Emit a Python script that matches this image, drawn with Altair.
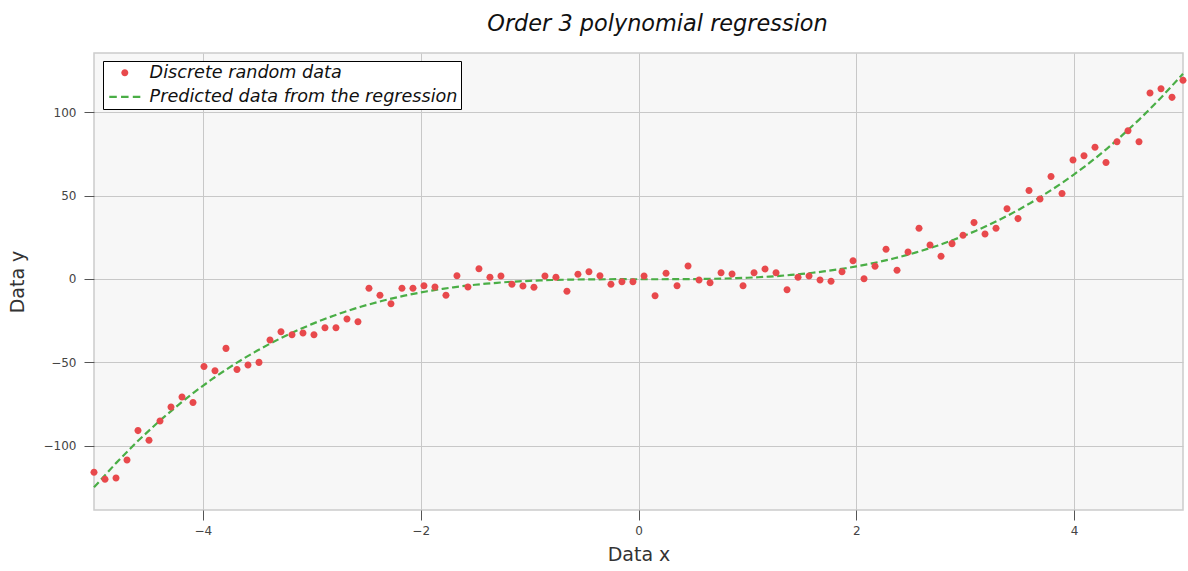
import altair as alt
import pandas as pd

# Sample positions along x (100 evenly spaced samples on [-5, 5])
x_values = [
    -5.000, -4.899, -4.798, -4.697, -4.596, -4.495, -4.394, -4.293, -4.192, -4.091,
    -3.990, -3.889, -3.788, -3.687, -3.586, -3.485, -3.384, -3.283, -3.182, -3.081,
    -2.980, -2.879, -2.778, -2.677, -2.576, -2.475, -2.374, -2.273, -2.172, -2.071,
    -1.970, -1.869, -1.768, -1.667, -1.566, -1.465, -1.364, -1.263, -1.162, -1.061,
    -0.960, -0.859, -0.758, -0.657, -0.556, -0.455, -0.354, -0.253, -0.152, -0.051,
    0.051, 0.152, 0.253, 0.354, 0.455, 0.556, 0.657, 0.758, 0.859, 0.960,
    1.061, 1.162, 1.263, 1.364, 1.465, 1.566, 1.667, 1.768, 1.869, 1.970,
    2.071, 2.172, 2.273, 2.374, 2.475, 2.576, 2.677, 2.778, 2.879, 2.980,
    3.081, 3.182, 3.283, 3.384, 3.485, 3.586, 3.687, 3.788, 3.889, 3.990,
    4.091, 4.192, 4.293, 4.394, 4.495, 4.596, 4.697, 4.798, 4.899, 5.000,
]

# Noisy observations
y_values = [
    -115.9, -120.1, -119.3, -108.5, -90.9, -96.7, -85.1, -76.7, -70.7, -74.1,
    -52.4, -55.0, -41.6, -54.2, -51.6, -50.0, -36.6, -31.6, -33.4, -32.4,
    -33.4, -29.2, -29.2, -24.0, -25.6, -5.6, -9.8, -14.8, -5.6, -5.6,
    -4.0, -4.8, -9.8, 2.0, -4.8, 6.2, 1.0, 1.8, -3.2, -4.2,
    -5.0, 1.8, 1.0, -7.4, 2.8, 4.4, 2.0, -3.2, -1.6, -1.6,
    1.8, -10.0, 3.4, -4.0, 7.8, -0.6, -2.2, 3.8, 3.0, -4.0,
    3.8, 6.0, 3.8, -6.4, 1.0, 1.8, -0.6, -1.4, 4.4, 11.0,
    0.2, 7.6, 17.8, 5.2, 16.2, 30.4, 20.4, 13.6, 21.2, 26.2,
    33.8, 27.0, 30.4, 42.1, 36.2, 53.0, 48.0, 61.4, 51.2, 71.3,
    73.9, 79.0, 69.8, 82.3, 88.9, 82.3, 111.5, 114.1, 108.9, 119.1,
]

series_names = ["Discrete random data", "Predicted data from the regression"]
series_colors = ["#e8494c", "#4aae46"]

# Glyphs (unit box is 16 px wide at size 256): a 7 px dot and a
# 31 px three-dash stroke that reaches past the unit box on both sides
dot_path = "M0.44,0A0.44,0.44,0,1,1,-0.44,0A0.44,0.44,0,1,1,0.44,0Z"
dash_path = ("M-1.94,-0.14H-1.0V0.14H-1.94Z M-0.47,-0.14H0.47V0.14H-0.47Z "
             "M1.0,-0.14H1.94V0.14H1.0Z")

df = pd.DataFrame({"x": x_values, "y": y_values, "series": series_names[0]})

x_scale = alt.Scale(domain=[-5, 5], nice=False, zero=False)
y_scale = alt.Scale(domain=[-138.5, 135.5], nice=False, zero=False)

x_axis = alt.Axis(title="Data x", values=[-4, -2, 0, 2, 4], format="d",
                  labelPadding=5, titlePadding=9)
y_axis = alt.Axis(title="Data y", values=[-100, -50, 0, 50, 100], format="d",
                  labelPadding=8, titlePadding=16)

# Non-breaking spaces keep some room between the labels and the box edge
label_tail = "\u00a0\u00a0\u00a0"

points = alt.Chart(df).mark_point(filled=True, size=256, opacity=1).encode(
    x=alt.X("x:Q", scale=x_scale, axis=x_axis),
    y=alt.Y("y:Q", scale=y_scale, axis=y_axis),
    color=alt.Color(
        "series:N",
        scale=alt.Scale(domain=series_names, range=series_colors),
        legend=alt.Legend(
            title=None, orient="none", legendX=9, legendY=8,
            fillColor="white", strokeColor="black", padding=3, cornerRadius=0,
            labelFont="DejaVu Sans", labelFontStyle="italic", labelFontSize=17.6,
            labelColor="#111111", labelOffset=16, labelLimit=700,
            labelExpr=f"datum.label + '{label_tail}'",
            symbolSize=256, symbolStrokeWidth=0, symbolOffset=10, rowPadding=5,
        ),
    ),
    shape=alt.Shape(
        "series:N",
        scale=alt.Scale(domain=series_names, range=[dot_path, dash_path]),
        legend=alt.Legend(title=None),
    ),
)

fit = alt.Chart(df).transform_regression(
    "x", "y", method="poly", order=3, extent=[-5, 5]
).mark_line(
    stroke=series_colors[1], strokeWidth=2.2, strokeDash=[7, 3.5]
).encode(
    x=alt.X("x:Q", scale=x_scale),
    y=alt.Y("y:Q", scale=y_scale),
)

chart = alt.layer(fit, points).properties(
    width=1089,
    height=457,
    autosize=alt.AutoSizeParams(type="none"),
    padding={"left": 94, "top": 53, "right": 5, "bottom": 61},
    title=alt.TitleParams(
        "Order 3 polynomial regression", font="DejaVu Sans", fontStyle="italic",
        fontWeight="normal", fontSize=22.4, color="#111111", anchor="middle",
        dx=19, offset=18,
    ),
).configure_view(
    fill="#f7f7f7", stroke="#cccccc", strokeWidth=1.5,
).configure_axis(
    domain=False, grid=True, gridColor="#c8c8c8", gridWidth=1,
    tickColor="#555555", tickSize=10, tickWidth=1,
    labelFont="DejaVu Sans", labelFontSize=12, labelColor="#444444",
    titleFont="DejaVu Sans", titleFontSize=19, titleFontWeight="normal",
    titleColor="#333333",
)

chart.save("out.html", embed_options={"renderer": "svg", "actions": False})
